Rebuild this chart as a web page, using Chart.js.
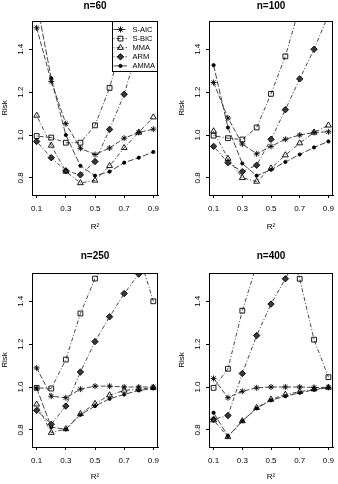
<!DOCTYPE html>
<html lang="en">
<head>
  <meta charset="UTF-8" />
  <title>Risk vs R2</title>
  <script src="https://cdn.jsdelivr.net/npm/chart.js"></script>
  <style>
    body { margin: 0; background: #fff; }
    #wrap { position: relative; width: 338px; height: 484px; }
    #wrap canvas { position: absolute; }
  </style>
</head>
<body>
  <div id="wrap">
    <canvas id="c60" width="169" height="242" style="left:0;top:0"></canvas>
    <canvas id="c100" width="169" height="242" style="left:169px;top:0"></canvas>
    <canvas id="c250" width="169" height="242" style="left:0;top:242px"></canvas>
    <canvas id="c400" width="169" height="242" style="left:169px;top:242px"></canvas>
  </div>

  <script>
    // x values and tick labels
    const r2 = [0.1, 0.2, 0.3, 0.4, 0.5, 0.6, 0.7, 0.8, 0.9];
    const xTicks = [0.1, 0.3, 0.5, 0.7, 0.9];
    const yTicks = [0.8, 1.0, 1.2, 1.4];
    const methods = ["S-AIC", "S-BIC", "MMA", "ARM", "AMMA"];

    // n=60
    const saic60 = [1.50, 1.25, 1.053, 0.938, 0.909, 0.939, 0.985, 1.012, 1.027];
    const sbic60 = [0.995, 0.988, 0.964, 0.964, 1.045, 1.22, 1.47, 1.75, 2.0];
    const mma60  = [1.091, 0.951, 0.83, 0.776, 0.788, 0.856, 0.94, 1.012, 1.083];
    const arm60  = [0.97, 0.894, 0.833, 0.814, 0.876, 1.026, 1.19, 1.42, 1.65];
    const amma60 = [1.62, 1.265, 1.0, 0.856, 0.81, 0.829, 0.871, 0.894, 0.921];

    // n=100
    const saic100 = [1.245, 1.079, 0.958, 0.912, 0.947, 0.98, 1.0, 1.012, 1.015];
    const sbic100 = [0.997, 0.985, 0.979, 1.035, 1.192, 1.367, 1.6, 1.85, 2.1];
    const mma100  = [1.018, 0.89, 0.80, 0.783, 0.845, 0.906, 0.962, 1.012, 1.045];
    const arm100  = [0.947, 0.871, 0.829, 0.859, 0.98, 1.118, 1.262, 1.40, 1.56];
    const amma100 = [1.326, 1.035, 0.867, 0.81, 0.838, 0.874, 0.909, 0.942, 0.97];

    // n=250
    const saic250 = [1.089, 0.957, 0.95, 0.99, 1.004, 1.004, 1.0, 1.0, 1.0];
    const sbic250 = [0.996, 0.993, 1.128, 1.343, 1.506, 1.6, 1.68, 1.62, 1.40];
    const mma250  = [0.919, 0.787, 0.804, 0.875, 0.922, 0.962, 0.984, 0.99, 0.997];
    const arm250  = [0.891, 0.826, 0.911, 1.07, 1.212, 1.328, 1.436, 1.527, 1.65];
    const amma250 = [0.995, 0.813, 0.802, 0.87, 0.911, 0.945, 0.965, 0.984, 0.993];

    // n=400
    const saic400 = [1.04, 0.95, 0.98, 0.996, 1.0, 1.0, 1.0, 0.998, 0.998];
    const sbic400 = [0.996, 1.085, 1.356, 1.57, 1.7, 1.68, 1.505, 1.221, 1.046];
    const mma400  = [0.845, 0.767, 0.841, 0.903, 0.942, 0.965, 0.978, 0.99, 0.998];
    const arm400  = [0.849, 0.867, 1.063, 1.24, 1.387, 1.505, 1.63, 1.75, 1.85];
    const amma400 = [0.88, 0.77, 0.841, 0.9, 0.938, 0.957, 0.973, 0.987, 0.997];

    Chart.defaults.font.family = '"Liberation Sans", Arial, sans-serif';
    Chart.defaults.font.size = 8;
    Chart.defaults.color = "#000";

    // marker / line look per method (same order as methods)
    const looks = [
      { pointStyle: "star",     radius: 3,   dash: [5, 2],       fill: "rgba(0,0,0,0)" },
      { pointStyle: "rect",     radius: 3.4, dash: [1, 2, 4, 2], fill: "rgba(0,0,0,0)" },
      { pointStyle: "triangle", radius: 3.4, dash: [1, 2, 4, 2], fill: "rgba(0,0,0,0)" },
      { pointStyle: "rectRot",  radius: 3.2, dash: [1, 2, 4, 2], fill: "#383838" },
      { pointStyle: "circle",   radius: 1.6, dash: [6, 2],       fill: "#000" }
    ];

    const panels = [
      { id: "c60",  title: "n=60",  series: [saic60, sbic60, mma60, arm60, amma60],
        left: 32, right: 11, top: 21, xh: 47, riskPad: 0, r2Pad: 10, titleY: 6, legend: true },
      { id: "c100", title: "n=100", series: [saic100, sbic100, mma100, arm100, amma100],
        left: 40, right: 5, top: 21, xh: 47, riskPad: 8, r2Pad: 10, titleY: 6, legend: false },
      { id: "c250", title: "n=250", series: [saic250, sbic250, mma250, arm250, amma250],
        left: 32, right: 11, top: 31, xh: 37, riskPad: 0, r2Pad: 2, titleY: 14, legend: false },
      { id: "c400", title: "n=400", series: [saic400, sbic400, mma400, arm400, amma400],
        left: 40, right: 5, top: 31, xh: 37, riskPad: 8, r2Pad: 2, titleY: 14, legend: false }
    ];

    // title + box around the plot region
    const panelFrame = {
      id: "panelFrame",
      afterDraw(chart, args, opts) {
        const ctx = chart.ctx, a = chart.chartArea;
        ctx.save();
        ctx.strokeStyle = "#000";
        ctx.lineWidth = 1;
        ctx.strokeRect(a.left + 0.5, a.top + 0.5, a.right - a.left - 1, a.bottom - a.top);
        ctx.font = 'bold 10px "Liberation Sans", Arial, sans-serif';
        ctx.fillStyle = "#000";
        ctx.textAlign = "center";
        ctx.textBaseline = "middle";
        ctx.fillText(opts.text, (a.left + a.right) / 2, opts.y);
        ctx.restore();
      }
    };

    // legend box in the top right corner of the plot
    const boxLegend = {
      id: "boxLegend",
      afterDatasetsDraw(chart, args, opts) {
        if (!opts.show) return;
        const ctx = chart.ctx, a = chart.chartArea;
        const w = 46, h = 50;
        const x0 = a.right - w, y0 = a.top;
        ctx.save();
        ctx.fillStyle = "#fff";
        ctx.fillRect(x0, y0, w, h);
        ctx.strokeStyle = "#000";
        ctx.lineWidth = 1;
        ctx.strokeRect(x0 + 0.5, y0 + 0.5, w - 1, h);
        chart.data.datasets.forEach((ds, i) => {
          const y = y0 + 8.5 + i * 9.1;
          ctx.strokeStyle = ds.borderColor;
          ctx.lineWidth = ds.borderWidth;
          ctx.setLineDash(ds.borderDash);
          ctx.beginPath();
          ctx.moveTo(x0 + 1.5, y);
          ctx.lineTo(x0 + 15, y);
          ctx.stroke();
          ctx.setLineDash([]);
          ctx.fillStyle = ds.pointBackgroundColor;
          ctx.strokeStyle = ds.pointBorderColor;
          ctx.lineWidth = ds.pointBorderWidth;
          Chart.helpers.drawPoint(ctx, {
            pointStyle: ds.pointStyle, radius: ds.pointRadius, rotation: 0, borderWidth: ds.pointBorderWidth
          }, x0 + 8.5, y);
          ctx.fillStyle = "#000";
          ctx.font = '7.5px "Liberation Sans", Arial, sans-serif';
          ctx.textAlign = "left";
          ctx.textBaseline = "middle";
          ctx.fillText(ds.label, x0 + 20.5, y);
        });
        ctx.restore();
      }
    };

    panels.forEach(p => {
      const datasets = methods.map((name, k) => ({
        label: name,
        data: r2.map((x, i) => ({ x: x, y: p.series[k][i] })),
        borderColor: "#333",
        borderWidth: 0.9,
        borderDash: looks[k].dash,
        pointStyle: looks[k].pointStyle,
        pointRadius: looks[k].radius,
        pointBackgroundColor: looks[k].fill,
        pointBorderColor: "#000",
        pointBorderWidth: 0.9,
        tension: 0,
        fill: false
      }));

      new Chart(document.getElementById(p.id), {
        type: "line",
        data: { datasets: datasets },
        options: {
          responsive: false,
          animation: false,
          devicePixelRatio: 1,
          layout: { padding: { left: 0, right: p.right, top: p.top, bottom: 0 } },
          plugins: {
            legend: { display: false },
            tooltip: { enabled: false },
            panelFrame: { text: p.title, y: p.titleY },
            boxLegend: { show: p.legend }
          },
          scales: {
            x: {
              type: "linear",
              min: 0.068,
              max: 0.932,
              afterBuildTicks: s => { s.ticks = xTicks.map(v => ({ value: v })); },
              afterFit: s => { s.height = p.xh; s.paddingLeft = 0; s.paddingRight = 0; },
              ticks: { autoSkip: false, maxRotation: 0, padding: 6, callback: v => v.toFixed(1) },
              grid: { display: true, drawOnChartArea: false, drawTicks: true, tickLength: 3, color: "#000" },
              border: { display: true, color: "#000" },
              title: { display: true, text: "R²", padding: { top: 0, bottom: p.r2Pad } }
            },
            y: {
              type: "linear",
              min: 0.72,
              max: 1.532,
              afterBuildTicks: s => { s.ticks = yTicks.map(v => ({ value: v })); },
              afterFit: s => { s.width = p.left; s.paddingTop = 0; s.paddingBottom = 0; },
              ticks: { autoSkip: false, minRotation: 90, maxRotation: 90, crossAlign: "center", padding: 3,
                       callback: v => v.toFixed(1) },
              grid: { display: true, drawOnChartArea: false, drawTicks: true, tickLength: 3, color: "#000" },
              border: { display: true, color: "#000" },
              title: { display: true, text: "Risk", padding: { top: p.riskPad, bottom: 0 } }
            }
          }
        },
        plugins: [panelFrame, boxLegend]
      });
    });
  </script>
</body>
</html>
